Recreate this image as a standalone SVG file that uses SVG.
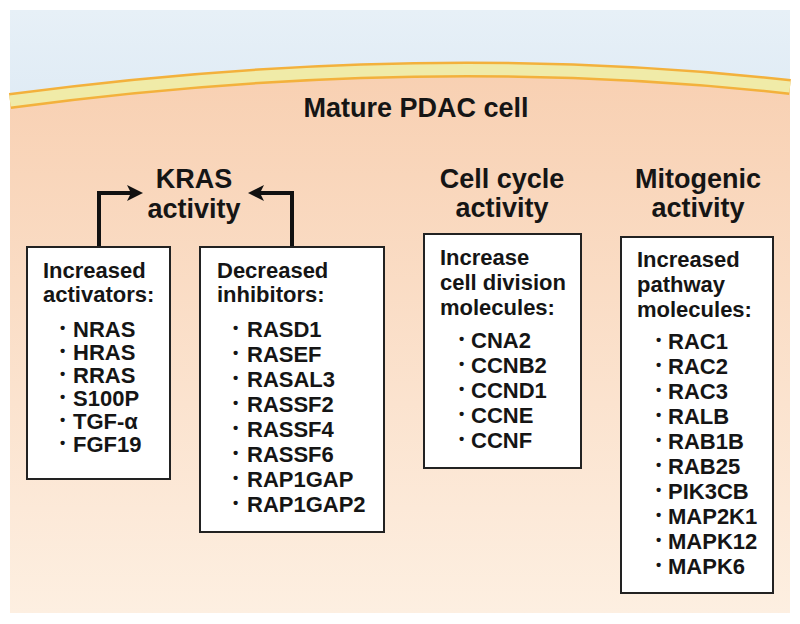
<svg xmlns="http://www.w3.org/2000/svg" width="800" height="624" viewBox="0 0 800 624">
<defs>
<linearGradient id="sky" x1="0" y1="0" x2="0" y2="1">
<stop offset="0" stop-color="#e7f0f7"/>
<stop offset="1" stop-color="#b4d0e9"/>
</linearGradient>
<linearGradient id="cyto" x1="0" y1="0" x2="0" y2="1">
<stop offset="0" stop-color="#f8d0b2"/>
<stop offset="1" stop-color="#fdefe1"/>
</linearGradient>
<marker id="ah" viewBox="0 0 16 16" refX="10" refY="8" markerWidth="16" markerHeight="16" markerUnits="userSpaceOnUse" orient="auto">
<path d="M0,0 L16,8 L0,16 L4,8 z" fill="#111"/>
</marker>
<style>
text{font-family:"Liberation Sans",Arial,sans-serif;font-weight:bold;fill:#151515}
.title{font-size:27px;text-anchor:middle}
.t{font-size:22px}
.bul{font-size:15px}
.box{fill:#fff;stroke:#222;stroke-width:2}
.conn{fill:none;stroke:#111;stroke-width:4;stroke-linejoin:miter}
</style>
</defs>
<rect x="0" y="0" width="800" height="624" fill="#fff"/>
<rect x="10" y="10" width="780" height="603" fill="url(#sky)"/>
<path d="M10,101 Q420,46 790,87 V613 H10 Z" fill="url(#cyto)"/>
<g id="membrane">
<path d="M10,101 Q420,46 790,87" fill="none" stroke="#f3b13c" stroke-width="16"/>
<path d="M10,101 Q420,46 790,87" fill="none" stroke="#f0eba8" stroke-width="11"/>
</g>
<text class="title" x="416" y="117">Mature PDAC cell</text>

<g id="kras">
<text class="title" x="194" y="188">KRAS</text>
<text class="title" x="194" y="218">activity</text>
</g>
<g id="cellcycle">
<text class="title" x="502" y="188">Cell cycle</text>
<text class="title" x="502" y="217">activity</text>
</g>
<g id="mitogenic">
<text class="title" x="698" y="188">Mitogenic</text>
<text class="title" x="698" y="217">activity</text>
</g>

<g id="connectors">
<path class="conn" d="M99,248 V193 H137" marker-end="url(#ah)"/>
<path class="conn" d="M292,248 V193 H254" marker-end="url(#ah)"/>
</g>

<g id="activators">
<rect class="box" x="27" y="247" width="143" height="232"/>
<text class="t" x="43" y="278">Increased</text>
<text class="t" x="43" y="302">activators:</text>
<text class="t"><tspan class="bul" x="60" y="333">•</tspan><tspan x="73" y="337">NRAS</tspan></text>
<text class="t"><tspan class="bul" x="60" y="356">•</tspan><tspan x="73" y="360">HRAS</tspan></text>
<text class="t"><tspan class="bul" x="60" y="379">•</tspan><tspan x="73" y="383">RRAS</tspan></text>
<text class="t"><tspan class="bul" x="60" y="402">•</tspan><tspan x="73" y="406">S100P</tspan></text>
<text class="t"><tspan class="bul" x="60" y="425">•</tspan><tspan x="73" y="429">TGF-α</tspan></text>
<text class="t"><tspan class="bul" x="60" y="448">•</tspan><tspan x="73" y="452">FGF19</tspan></text>
</g>

<g id="inhibitors">
<rect class="box" x="200" y="247" width="184" height="285"/>
<text class="t" x="217" y="278">Decreased</text>
<text class="t" x="217" y="302">inhibitors:</text>
<text class="t"><tspan class="bul" x="233" y="333">•</tspan><tspan x="247" y="337">RASD1</tspan></text>
<text class="t"><tspan class="bul" x="233" y="358">•</tspan><tspan x="247" y="362">RASEF</tspan></text>
<text class="t"><tspan class="bul" x="233" y="383">•</tspan><tspan x="247" y="387">RASAL3</tspan></text>
<text class="t"><tspan class="bul" x="233" y="408">•</tspan><tspan x="247" y="412">RASSF2</tspan></text>
<text class="t"><tspan class="bul" x="233" y="433">•</tspan><tspan x="247" y="437">RASSF4</tspan></text>
<text class="t"><tspan class="bul" x="233" y="458">•</tspan><tspan x="247" y="462">RASSF6</tspan></text>
<text class="t"><tspan class="bul" x="233" y="483">•</tspan><tspan x="247" y="487">RAP1GAP</tspan></text>
<text class="t"><tspan class="bul" x="233" y="508">•</tspan><tspan x="247" y="512">RAP1GAP2</tspan></text>
</g>

<g id="division">
<rect class="box" x="424" y="234" width="157" height="234"/>
<text class="t" x="440" y="265">Increase</text>
<text class="t" x="440" y="290">cell division</text>
<text class="t" x="440" y="315">molecules:</text>
<text class="t"><tspan class="bul" x="459" y="344">•</tspan><tspan x="471" y="348">CNA2</tspan></text>
<text class="t"><tspan class="bul" x="459" y="369">•</tspan><tspan x="471" y="373">CCNB2</tspan></text>
<text class="t"><tspan class="bul" x="459" y="394">•</tspan><tspan x="471" y="398">CCND1</tspan></text>
<text class="t"><tspan class="bul" x="459" y="419">•</tspan><tspan x="471" y="423">CCNE</tspan></text>
<text class="t"><tspan class="bul" x="459" y="444">•</tspan><tspan x="471" y="448">CCNF</tspan></text>
</g>

<g id="pathway">
<rect class="box" x="621" y="237" width="152" height="356"/>
<text class="t" x="637" y="267">Increased</text>
<text class="t" x="637" y="292">pathway</text>
<text class="t" x="637" y="317">molecules:</text>
<text class="t"><tspan class="bul" x="656" y="345">•</tspan><tspan x="668" y="349">RAC1</tspan></text>
<text class="t"><tspan class="bul" x="656" y="370">•</tspan><tspan x="668" y="374">RAC2</tspan></text>
<text class="t"><tspan class="bul" x="656" y="395">•</tspan><tspan x="668" y="399">RAC3</tspan></text>
<text class="t"><tspan class="bul" x="656" y="420">•</tspan><tspan x="668" y="424">RALB</tspan></text>
<text class="t"><tspan class="bul" x="656" y="445">•</tspan><tspan x="668" y="449">RAB1B</tspan></text>
<text class="t"><tspan class="bul" x="656" y="470">•</tspan><tspan x="668" y="474">RAB25</tspan></text>
<text class="t"><tspan class="bul" x="656" y="495">•</tspan><tspan x="668" y="499">PIK3CB</tspan></text>
<text class="t"><tspan class="bul" x="656" y="520">•</tspan><tspan x="668" y="524">MAP2K1</tspan></text>
<text class="t"><tspan class="bul" x="656" y="545">•</tspan><tspan x="668" y="549">MAPK12</tspan></text>
<text class="t"><tspan class="bul" x="656" y="570">•</tspan><tspan x="668" y="574">MAPK6</tspan></text>
</g>
</svg>
